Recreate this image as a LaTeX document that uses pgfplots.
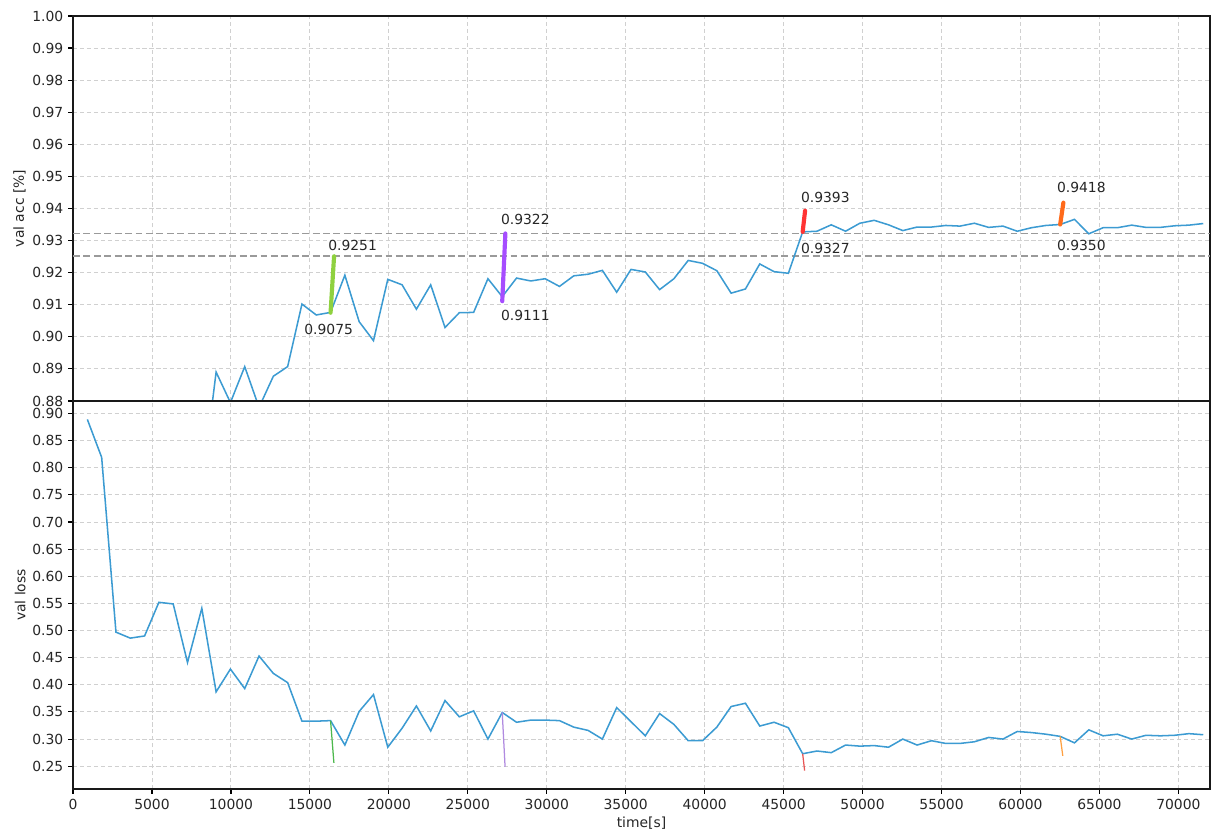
\documentclass[border=0pt]{standalone}
\usepackage{fontspec}
\setmainfont{DejaVu Sans}
\usepackage{pgfplots}
\pgfplotsset{compat=1.18}
\definecolor{cblue}{HTML}{3C9BD2}
\definecolor{cgreen}{HTML}{8FD13F}
\definecolor{cpurple}{HTML}{A64DFF}
\definecolor{cred}{HTML}{FF3333}
\definecolor{corange}{HTML}{FF6A1A}
\definecolor{lgreen}{HTML}{4CB84C}
\definecolor{lpurple}{HTML}{B08AE0}
\definecolor{lred}{HTML}{E85555}
\definecolor{lorange}{HTML}{FFA040}
\definecolor{gridc}{HTML}{D0D0D0}
\definecolor{hlc}{HTML}{9A9A9A}
\pgfplotsset{
  common/.style={
    scale only axis, width=818.6pt, xmin=0, xmax=72000,
    xtick={0,5000,...,70000},
    scaled x ticks=false, scaled y ticks=false,
    grid=major,
    major grid style={gridc, dash pattern=on 3pt off 2pt, line width=0.7pt},
    axis line style={black!90, line width=0.8pt},
    tick align=outside, xtick pos=bottom, ytick pos=left,
    major tick length=3.5pt,
    tick style={black, line width=0.8pt},
    tick label style={font=\fontsize{10}{12}\selectfont, text=black!85},
    label style={font=\fontsize{10}{12}\selectfont, text=black!85},
    /pgf/number format/assume math mode=true,
    x tick label style={/pgf/number format/1000 sep={}},
    y tick label style={/pgf/number format/.cd, fixed, fixed zerofill, precision=2},
    clip=true,
  }
}
\begin{document}
\begin{tikzpicture}
\path[use as bounding box] (-52.6pt,-31pt) rectangle (825.1pt,568.1pt);
% top: val acc
\begin{axis}[common, at={(0pt,279.4pt)}, anchor=south west, height=277.2pt,
  ymin=0.88, ymax=1.0,
  ytick={0.88,0.89,...,1.001},
  xticklabels={},
  xtick style={draw=none},
  ylabel={val acc [\%]},
  ylabel style={yshift=-2pt}]
\addplot[hlc, line width=1.1pt, dash pattern=on 5pt off 2.5pt, forget plot] coordinates {(0,0.9322)(72000,0.9322)};
\addplot[hlc, line width=1.1pt, dash pattern=on 5pt off 2.5pt, forget plot] coordinates {(0,0.9251)(72000,0.9251)};
\addplot[cblue, line width=1.1pt] coordinates {
(8154,0.853)(9060,0.889)(9966,0.8795)(10872,0.8907)(11778,0.878)(12684,0.8877)(13590,0.8907)(14496,0.9102)(15402,0.9068)(16308,0.9076)
(17214,0.9192)(18120,0.9047)(19026,0.8988)(19932,0.9179)(20838,0.9162)(21744,0.9086)(22650,0.9162)(23556,0.9029)(24462,0.9075)(25368,0.9076)
(26274,0.9181)(27180,0.9125)(28086,0.9183)(28992,0.9174)(29898,0.9181)(30804,0.9157)(31710,0.9190)(32616,0.9195)(33522,0.9207)(34428,0.9139)
(35334,0.9210)(36240,0.9202)(37146,0.9147)(38052,0.9181)(38958,0.9238)(39864,0.9229)(40770,0.9206)(41676,0.9136)(42582,0.9149)(43488,0.9227)
(44394,0.9203)(45300,0.9198)(46206,0.9327)(47112,0.9329)(48018,0.9349)(48924,0.9329)(49830,0.9354)(50736,0.9363)(51642,0.9349)(52548,0.9331)
(53454,0.9342)(54360,0.9342)(55266,0.9347)(56172,0.9345)(57078,0.9354)(57984,0.9341)(58890,0.9345)(59796,0.9329)(60702,0.9340)(61608,0.9347)
(62514,0.9350)(63420,0.9366)(64326,0.9321)(65232,0.9340)(66138,0.9340)(67044,0.9348)(67950,0.9341)(68856,0.9341)(69762,0.9346)(70668,0.9348)
(71574,0.9353)
};
\addplot[cgreen, line width=3pt, line cap=round] coordinates {(16308,0.9075)(16530,0.9251)};
\addplot[cpurple, line width=3pt, line cap=round] coordinates {(27180,0.9111)(27378,0.9322)};
\addplot[cred, line width=3pt, line cap=round] coordinates {(46206,0.9327)(46359,0.9393)};
\addplot[corange, line width=3pt, line cap=round] coordinates {(62514,0.9350)(62717,0.9418)};
\begin{scope}[every node/.style={anchor=west, inner sep=0pt, font=\fontsize{10}{12}\selectfont, text=black!85}]
\node at (axis cs:16149,0.9286) {0.9251};
\node at (axis cs:14630,0.9022) {0.9075};
\node at (axis cs:27087,0.9366) {0.9322};
\node at (axis cs:27087,0.9066) {0.9111};
\node at (axis cs:46086,0.9434) {0.9393};
\node at (axis cs:46086,0.9274) {0.9327};
\node at (axis cs:62299,0.9466) {0.9418};
\node at (axis cs:62299,0.9286) {0.9350};
\end{scope}
\end{axis}
% bottom: val loss
\begin{axis}[common, at={(0pt,0pt)}, anchor=south west, height=279.4pt,
  ymin=0.208, ymax=0.923,
  ytick={0.25,0.30,...,0.91},
  xlabel={time[s]}, ylabel={val loss},
  xlabel style={yshift=1pt},
  ylabel style={yshift=-2pt}]
\addplot[cblue, line width=1.1pt] coordinates {
(906,0.889)(1812,0.819)(2718,0.497)(3624,0.486)(4530,0.490)(5436,0.552)(6342,0.549)(7248,0.441)(8154,0.541)(9060,0.387)
(9966,0.429)(10872,0.393)(11778,0.453)(12684,0.421)(13590,0.404)(14496,0.333)(15402,0.333)(16308,0.334)(17214,0.289)(18120,0.351)
(19026,0.382)(19932,0.285)(20838,0.320)(21744,0.361)(22650,0.315)(23556,0.371)(24462,0.341)(25368,0.352)(26274,0.300)(27180,0.349)
(28086,0.331)(28992,0.335)(29898,0.335)(30804,0.334)(31710,0.322)(32616,0.316)(33522,0.300)(34428,0.358)(35334,0.332)(36240,0.306)
(37146,0.347)(38052,0.327)(38958,0.297)(39864,0.297)(40770,0.322)(41676,0.360)(42582,0.366)(43488,0.324)(44394,0.331)(45300,0.321)
(46206,0.273)(47112,0.278)(48018,0.275)(48924,0.289)(49830,0.287)(50736,0.288)(51642,0.285)(52548,0.300)(53454,0.289)(54360,0.297)
(55266,0.292)(56172,0.292)(57078,0.295)(57984,0.303)(58890,0.300)(59796,0.314)(60702,0.312)(61608,0.309)(62514,0.305)(63420,0.293)
(64326,0.317)(65232,0.306)(66138,0.309)(67044,0.300)(67950,0.307)(68856,0.306)(69762,0.307)(70668,0.310)(71574,0.308)
};
\addplot[lgreen, line width=0.9pt] coordinates {(16308,0.334)(16520,0.256)};
\addplot[lpurple, line width=0.9pt] coordinates {(27180,0.349)(27360,0.249)};
\addplot[lred, line width=0.9pt] coordinates {(46206,0.273)(46330,0.242)};
\addplot[lorange, line width=0.9pt] coordinates {(62514,0.305)(62680,0.269)};
\end{axis}
\end{tikzpicture}
\end{document}
